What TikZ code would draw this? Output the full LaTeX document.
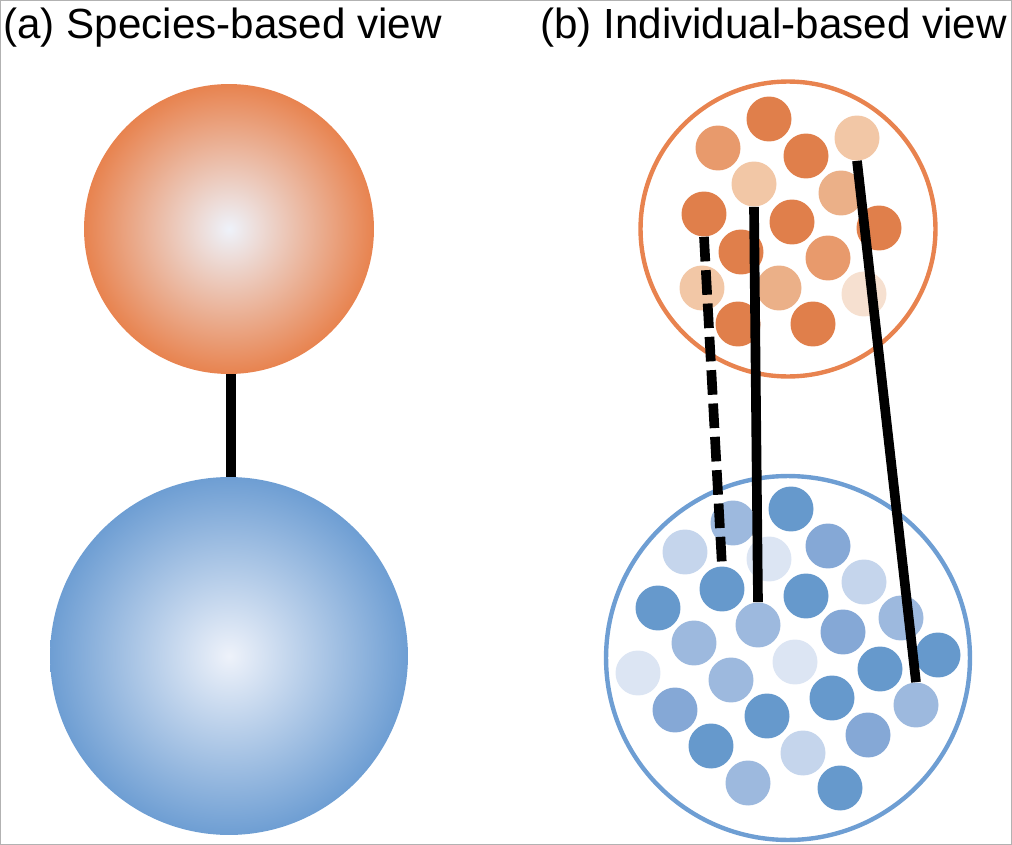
\documentclass[tikz,border=0pt]{standalone}
\usepackage{fontspec}
\setmainfont{Liberation Sans}
\begin{document}
\begin{tikzpicture}[x=0.02cm,y=-0.02cm,
  dot/.style={circle,inner sep=0pt,minimum size=0.9cm,fill=#1,draw=none},
  link/.style={line width=5.5pt,black},
  lbl/.style={anchor=base west,inner sep=0pt,font=\fontsize{24}{28}\selectfont}]
\definecolor{o1}{HTML}{E07F4B}\definecolor{o2}{HTML}{E89A6C}\definecolor{o3}{HTML}{EBB088}
\definecolor{o4}{HTML}{F2C7A6}\definecolor{o5}{HTML}{F6E0D0}
\definecolor{b1}{HTML}{6699CC}\definecolor{b2}{HTML}{85A8D6}\definecolor{b3}{HTML}{9DB9DE}
\definecolor{b4}{HTML}{C5D5EC}\definecolor{b5}{HTML}{DCE5F3}
\definecolor{oline}{HTML}{E8834F}\definecolor{bline}{HTML}{6E9ED3}
\definecolor{core}{HTML}{EEF2FA}
\useasboundingbox (0,0) rectangle (1012,845);
\draw[gray!60,line width=0.6pt] (0.5,0.5) rectangle (1011.5,844.5);
\node[lbl] (ta) at (3,38) {(a) Species-based view};
\node[lbl] (tb) at (540,38) {(b) Individual-based view};
% left
\coordinate (sa) at (229,229);
\coordinate (sb) at (229,656);
\draw[link] (231,370) -- (231,482);
\shade[inner color=core,outer color=oline] (sa) circle[radius=2.9cm];
\shade[inner color=core,outer color=bline] (sb) circle[radius=3.58cm];
% right circles
\draw[oline,line width=2.5pt] (788,229) circle[radius=2.95cm];
\draw[bline,line width=2.5pt] (788,658) circle[radius=3.64cm];
\foreach \n/\x/\y/\c in {1/769/119/o1,2/718/148/o2,3/806/156/o1,4/857/138/o4,5/754/184/o4,6/841/193/o3,
 7/704/214/o1,8/792/222/o1,9/879/228/o1,10/741/252/o1,11/828/258/o2,12/702/288/o4,13/779/288/o3,
 14/864/294/o5,15/738/324/o1,16/813/324/o1}
  \node[dot=\c] (o\n) at (\x,\y) {};
\foreach \n/\x/\y/\c in {1/733/523/b3,2/791/509/b1,3/685/552/b4,4/769/559/b5,5/828/546/b2,6/864/582/b4,
 7/722/589/b1,8/806/596/b1,9/658/608/b1,10/758/625/b3,11/843/632/b2,12/901/618/b3,13/938/655/b1,
 14/694/643/b3,15/795/662/b5,16/638/673/b5,17/880/669/b1,18/731/680/b3,19/832/698/b1,20/916/705/b3,
 21/675/710/b2,22/767/716/b1,23/711/746/b1,24/803/753/b4,25/868/735/b2,26/748/783/b3,27/840/788/b1}
  \node[dot=\c] (b\n) at (\x,\y) {};
\draw[link,dash pattern=on 14pt off 5pt] (o7.south) -- (b7.north);
\draw[link] (o5.south) -- (b10.north);
\draw[link] (o4.south) -- (b20.north);
\end{tikzpicture}
\end{document}
